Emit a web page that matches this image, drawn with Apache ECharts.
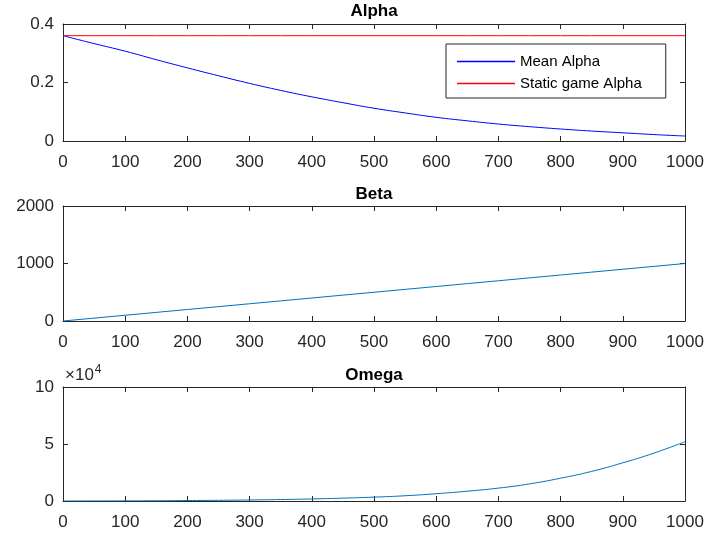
<!DOCTYPE html>
<html>
<head>
<meta charset="utf-8">
<script src="https://cdn.jsdelivr.net/npm/echarts@6/dist/echarts.min.js"></script>
<style>
  html, body { margin: 0; padding: 0; background: #fff; }
  #main { width: 709px; height: 537px; }
</style>
</head>
<body>
<div id="main"></div>
<script>
// x positions (iterations)
var iters = [0, 50, 100, 150, 200, 250, 300, 350, 400, 450, 500, 550, 600, 650, 700, 750, 800, 850, 900, 950, 1000];
// Alpha panel
var meanAlpha = [0.36, 0.333, 0.307, 0.278, 0.25, 0.223, 0.197, 0.173, 0.151, 0.131, 0.112, 0.096, 0.081, 0.069, 0.058, 0.049, 0.041, 0.034, 0.028, 0.022, 0.017];
var staticAlpha = 0.36;
// Beta panel
var beta = [0, 50, 100, 150, 200, 250, 300, 350, 400, 450, 500, 550, 600, 650, 700, 750, 800, 850, 900, 950, 1000];
// Omega panel
var omega = [0, 50, 100, 200, 400, 600, 900, 1300, 1800, 2500, 3400, 4600, 6400, 8600, 11300, 15000, 20000, 26000, 33500, 42000, 52000];

var titles = ['Alpha', 'Beta', 'Omega'];
var legendNames = ['Mean Alpha', 'Static game Alpha'];
var legendColors = ['#0000ff', '#ff0000'];

var axisCol = '#262626';
var font = '"Liberation Sans", Arial, sans-serif';

var c = echarts.init(document.getElementById('main'));

var grids = [
  { left: 63, right: 24, top: 24, height: 117 },
  { left: 63, right: 24, top: 206, height: 115 },
  { left: 63, right: 24, top: 387, height: 114 }
];
var yCfg = [
  { max: 0.4, interval: 0.2, fmt: function (v) { return v === 0 ? '0' : v.toFixed(1); } },
  { max: 2000, interval: 1000, fmt: function (v) { return String(v); } },
  { max: 100000, interval: 50000, fmt: function (v) { return String(v / 10000); } }
];

function pairs(ys) {
  return iters.map(function (x, i) { return [x, ys[i]]; });
}

var xAxes = [], yAxes = [];
grids.forEach(function (g, i) {
  var base = {
    gridIndex: i, type: 'value', min: 0, max: 1000, interval: 100,
    axisLine: { show: true, onZero: false, lineStyle: { color: axisCol, width: 1 } },
    axisTick: { show: true, inside: true, length: 5, lineStyle: { color: axisCol } },
    splitLine: { show: false }
  };
  xAxes.push(Object.assign({}, base, {
    position: 'bottom',
    axisLabel: { color: axisCol, fontSize: 17, fontFamily: font, margin: 13, formatter: function (v) { return String(v); } }
  }));
  xAxes.push(Object.assign({}, base, { position: 'top', axisLabel: { show: false } }));
  var yb = {
    gridIndex: i, type: 'value', min: 0, max: yCfg[i].max, interval: yCfg[i].interval,
    axisLine: { show: true, onZero: false, lineStyle: { color: axisCol, width: 1 } },
    axisTick: { show: true, inside: true, length: 5, lineStyle: { color: axisCol } },
    splitLine: { show: false }
  };
  yAxes.push(Object.assign({}, yb, {
    position: 'left',
    axisLabel: { color: axisCol, fontSize: 17, fontFamily: font, margin: 9, formatter: yCfg[i].fmt }
  }));
  yAxes.push(Object.assign({}, yb, { position: 'right', axisLabel: { show: false } }));
});

var titleTops = [3, 186, 367];
var titleOpts = titles.map(function (t, i) {
  return {
    text: t, left: 374, top: titleTops[i], textAlign: 'center', padding: 0,
    textStyle: { fontSize: 17, fontWeight: 'bold', color: '#000', fontFamily: font }
  };
});

c.setOption({
  animation: false,
  backgroundColor: '#fff',
  title: titleOpts,
  grid: grids,
  xAxis: xAxes,
  yAxis: yAxes,
  legend: {
    data: legendNames.map(function (n, i) {
      return { name: n, icon: 'rect', itemStyle: { color: legendColors[i], borderWidth: 0 } };
    }),
    orient: 'vertical',
    left: 446, top: 44,
    itemWidth: 58, itemHeight: 1.5, itemGap: 7,
    padding: [10, 24, 7, 11],
    backgroundColor: '#fff',
    borderColor: axisCol, borderWidth: 1,
    textStyle: { color: '#000', fontSize: 15, fontFamily: font }
  },
  series: [
    {
      name: legendNames[0], type: 'line', xAxisIndex: 0, yAxisIndex: 0,
      data: pairs(meanAlpha), smooth: true, showSymbol: false,
      lineStyle: { color: '#0000ff', width: 1 }, itemStyle: { color: '#0000ff' }
    },
    {
      name: legendNames[1], type: 'line', xAxisIndex: 0, yAxisIndex: 0,
      data: iters.map(function (x) { return [x, staticAlpha]; }), showSymbol: false,
      lineStyle: { color: '#ff0000', width: 1 }, itemStyle: { color: '#ff0000' }
    },
    {
      name: 'Beta', type: 'line', xAxisIndex: 2, yAxisIndex: 2,
      data: pairs(beta), showSymbol: false,
      lineStyle: { color: '#0072bd', width: 1 }, itemStyle: { color: '#0072bd' }
    },
    {
      name: 'Omega', type: 'line', xAxisIndex: 4, yAxisIndex: 4,
      data: pairs(omega), smooth: true, showSymbol: false,
      lineStyle: { color: '#0072bd', width: 1 }, itemStyle: { color: '#0072bd' }
    }
  ],
  graphic: [{
    type: 'text', left: 65, top: 364,
    style: {
      text: '×10{sup|4}',
      rich: { sup: { fontSize: 12, fontFamily: font, fill: axisCol, verticalAlign: 'top', padding: [0, 0, 10, 1] } },
      fontSize: 17, fontFamily: font, fill: axisCol
    }
  }]
});
</script>
</body>
</html>
